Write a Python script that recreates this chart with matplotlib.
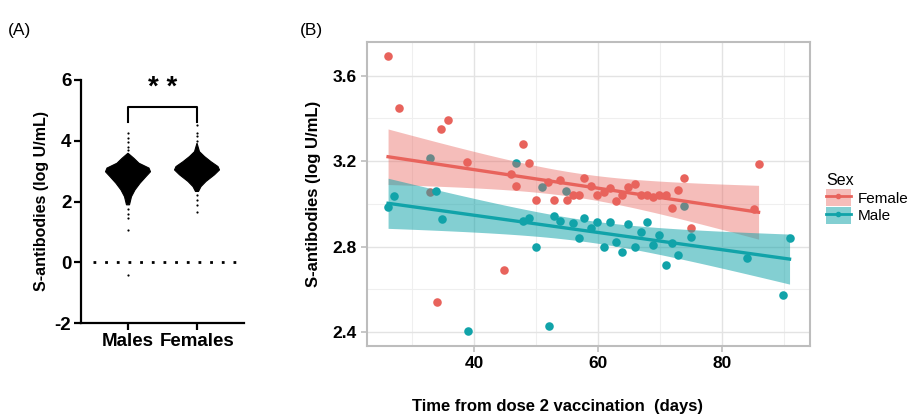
import numpy as np
import matplotlib
matplotlib.use("Agg")
import matplotlib.pyplot as plt
from matplotlib.patches import Patch
from matplotlib.lines import Line2D

plt.rcParams['font.family'] = ['Liberation Sans', 'DejaVu Sans']
plt.rcParams['axes.unicode_minus'] = False

# ---- panel A: swarm outline (y level, half width in px)
grupos = ["Males", "Females"]
males_y = [3.59, 3.42, 3.26, 3.10, 2.98, 2.82, 2.60, 2.38, 2.16, 1.89]
males_hw = [0, 6, 11, 21, 22.5, 18, 12, 7, 3.5, 1.5]
females_y = [3.92, 3.64, 3.48, 3.31, 3.15, 3.04, 2.88, 2.66, 2.49, 2.33]
females_hw = [0, 2.5, 7.5, 14, 21, 22.5, 17.5, 9, 4, 1.5]
# sueltos fuera del cuerpo del swarm
males_tails = [4.25, 4.1, 3.95, 3.8, 3.7, 1.75, 1.6, 1.46, 1.07, -0.41]
females_tails = [4.52, 4.25, 4.14, 4.0, 2.22, 2.05, 1.89, 1.67]

# ---- panel B: points
fem_x = [26.1, 27.8, 32.8, 34.0, 34.7, 35.8, 38.8, 44.8, 45.9, 46.8, 47.9, 48.8,
         49.9, 51.9, 52.9, 53.9, 54.9, 55.9, 56.9, 57.8, 58.9, 59.9, 60.9, 61.9,
         62.9, 63.9, 64.9, 65.9, 66.9, 67.9, 68.9, 69.9, 70.9, 71.9, 72.9, 73.9,
         75.0, 85.1, 85.9]
fem_y = [3.693, 3.448, 3.056, 2.540, 3.351, 3.394, 3.197, 2.692, 3.141, 3.085,
         3.279, 3.192, 3.019, 3.100, 3.019, 3.113, 3.019, 3.040, 3.042, 3.120,
         3.084, 3.040, 3.056, 3.072, 3.014, 3.040, 3.078, 3.095, 3.042, 3.042,
         3.030, 3.042, 3.042, 2.979, 3.065, 3.120, 2.889, 2.975, 3.185]
male_x = [26.1, 27.0, 32.9, 33.8, 34.8, 39.0, 46.8, 47.9, 48.8, 49.9, 50.9, 52.0,
          52.9, 53.9, 54.8, 55.9, 56.9, 57.8, 58.9, 59.9, 60.9, 61.9, 62.9, 63.9,
          64.9, 65.9, 66.9, 67.9, 68.9, 69.9, 70.9, 71.9, 72.9, 73.9, 75.0, 84.0,
          89.9, 90.9]
male_y = [2.983, 3.037, 3.216, 3.058, 2.930, 2.406, 3.190, 2.918, 2.933, 2.800,
          3.080, 2.430, 2.941, 2.920, 3.059, 2.909, 2.840, 2.933, 2.886, 2.913,
          2.800, 2.916, 2.823, 2.774, 2.907, 2.800, 2.867, 2.916, 2.807, 2.855,
          2.716, 2.817, 2.760, 2.988, 2.845, 2.745, 2.575, 2.840]

ROJO = "#E8635C"
TEAL = "#11A3A9"


def ajuste_lineal(x, y, t=2.02):
    x = np.asarray(x)
    y = np.asarray(y)
    b, a = np.polyfit(x, y, 1)
    res = y - (a + b * x)
    s = np.sqrt(np.sum(res ** 2) / (len(x) - 2))
    xs = np.linspace(x.min(), x.max(), 80)
    se = s * np.sqrt(1 / len(x) + (xs - x.mean()) ** 2 / np.sum((x - x.mean()) ** 2))
    fit = a + b * xs
    return xs, fit, fit - t * se, fit + t * se


fig = plt.figure(figsize=(9.14, 4.17), dpi=100)

# ================= (A)
axA = fig.add_axes([81 / 914, 1 - 323 / 417, 163 / 914, 243 / 417])
px_unit = 69.0
for i, (yy, hw) in enumerate([(males_y, males_hw), (females_y, females_hw)]):
    hw = np.array(hw) / px_unit
    xs = np.concatenate([i - hw, (i + hw)[::-1]])
    ys = np.concatenate([yy, yy[::-1]])
    axA.fill(xs, ys, color="black", lw=0.8, zorder=3)
axA.scatter(np.zeros(len(males_tails)), males_tails, s=2.5, color="black", lw=0, zorder=3)
axA.scatter(np.ones(len(females_tails)), females_tails, s=2.5, color="black", lw=0, zorder=3)
axA.plot([-0.51, 1.68], [0, 0], color="black", lw=2, ls=(0, (1, 3.2)), zorder=2)
# corchete de significancia
axA.plot([0, 0, 1, 1], [4.62, 5.11, 5.11, 4.62], color="black", lw=1.5, clip_on=False)
axA.text(0.5, 5.75, "* *", ha="center", va="center", fontsize=20, fontweight="bold")

axA.set_xlim(-0.681, 1.681)
axA.set_ylim(-2, 6)
axA.set_yticks([-2, 0, 2, 4, 6])
axA.set_xticks([0, 1])
axA.set_xticklabels(grupos)
for sp in ["top", "right"]:
    axA.spines[sp].set_visible(False)
for sp in ["left", "bottom"]:
    axA.spines[sp].set_linewidth(1.6)
axA.tick_params(width=1.6, length=5, labelsize=13.5, pad=2)
for lab in axA.get_xticklabels() + axA.get_yticklabels():
    lab.set_fontweight("bold")
axA.set_ylabel("S-antibodies (log U/mL)", fontsize=11.5, fontweight="bold", labelpad=4)
fig.text(8 / 914, 1 - 30 / 417, "(A)", fontsize=12.5, va="center", ha="left")

# ================= (B)
axB = fig.add_axes([367 / 914, 1 - 346 / 417, 443 / 914, 304 / 417])
axB.set_xlim(22.7, 94.2)
axB.set_ylim(2.335, 3.757)
axB.set_xticks([40, 60, 80])
axB.set_yticks([2.4, 2.8, 3.2, 3.6])
axB.set_xticks([30, 50, 70, 90], minor=True)
axB.set_yticks([2.6, 3.0, 3.4], minor=True)
axB.grid(which="major", color="#E3E3E3", lw=1.0)
axB.grid(which="minor", color="#EFEFEF", lw=0.8)
axB.set_axisbelow(True)
for sp in axB.spines.values():
    sp.set_color("#BDBDBD")
    sp.set_linewidth(1.5)
axB.tick_params(which="major", color="#BDBDBD", length=4, width=1.2, labelsize=12.5)
axB.tick_params(which="minor", length=0)
for lab in axB.get_xticklabels() + axB.get_yticklabels():
    lab.set_fontweight("bold")

axB.scatter(fem_x, fem_y, s=38, color=ROJO, lw=0, zorder=2)
axB.scatter(male_x, male_y, s=38, color=TEAL, lw=0, zorder=2)
for x, y, col, a in [(fem_x, fem_y, ROJO, 0.42), (male_x, male_y, TEAL, 0.52)]:
    xs, fit, lo, hi = ajuste_lineal(x, y)
    axB.fill_between(xs, lo, hi, color=col, alpha=a, lw=0, zorder=3)
    axB.plot(xs, fit, color=col, lw=2.4, zorder=4)

axB.set_ylabel("S-antibodies (log U/mL)", fontsize=12, fontweight="bold", labelpad=8)
fig.text(557 / 914, 1 - 407 / 417, "Time from dose 2 vaccination  (days)",
         fontsize=12, fontweight="bold", ha="center", va="center")
fig.text(300 / 914, 1 - 30 / 417, "(B)", fontsize=12.5, va="center", ha="left")

handles = [
    (Patch(facecolor=ROJO, alpha=0.42, lw=0), Line2D([], [], color=ROJO, lw=2, marker="o", ms=3)),
    (Patch(facecolor=TEAL, alpha=0.52, lw=0), Line2D([], [], color=TEAL, lw=2, marker="o", ms=3)),
]
leg = fig.legend(handles, ["Female", "Male"], title="Sex", loc="upper left",
                 bbox_to_anchor=(820 / 914, 1 - 167 / 417), frameon=False,
                 fontsize=11, title_fontsize=11.5, handlelength=1.6, handleheight=1.35,
                 handletextpad=0.45, labelspacing=0.05, borderaxespad=0)
leg._legend_box.align = "left"

fig.savefig("out.png", dpi=100)
